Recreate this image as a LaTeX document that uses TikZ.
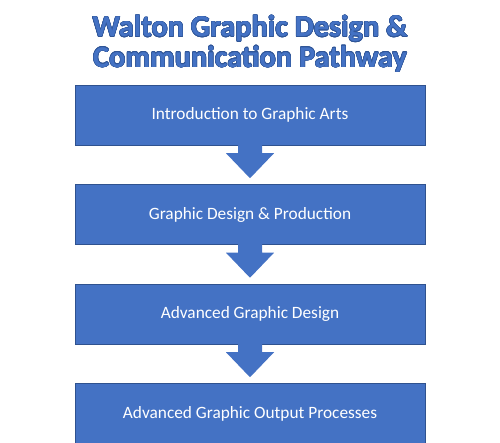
\documentclass[tikz,border=0pt]{standalone}
\usepackage{fontspec}
\setmainfont{Carlito}
\usepackage{contour}
\contourlength{0.5pt}
\contournumber{16}
\usetikzlibrary{positioning,calc}
\definecolor{stepblue}{HTML}{4472C4}
\definecolor{edgeblue}{HTML}{2F528F}
\definecolor{titleedge}{HTML}{2F5597}

\begin{document}
\begin{tikzpicture}[x=1pt,y=1pt,
    course/.style={draw=edgeblue, line width=0.5pt, fill=stepblue, minimum width=350pt, minimum height=60pt, inner sep=0pt, text=white, font=\fontsize{17.3}{20}\selectfont},
    heading/.style={text=stepblue, font=\bfseries\fontsize{30.3}{30.5}\selectfont, align=center, inner sep=0pt},
    blockarrow/.style={fill=stepblue, to path={
        ($(\tikztostart.south)+(-12,1)$) -- ($(\tikztostart.south)+(-12,-8)$) -- ($(\tikztostart.south)+(-24,-8)$)
        -- ($(\tikztotarget.north)+(0,6)$)
        -- ($(\tikztostart.south)+(24,-8)$) -- ($(\tikztostart.south)+(12,-8)$) -- ($(\tikztostart.south)+(12,1)$) -- cycle}}
]
    \useasboundingbox (0,0) rectangle (500,443);

    % Title
    \node[heading] (title) at (250,399) {\contour{titleedge}{Walton Graphic Design \&}\\\contour{titleedge}{Communication Pathway}};

    % Courses
    \node[course] (intro) at (250,328) {Introduction to Graphic Arts};
    \node[course, below=39pt of intro] (design) {Graphic Design \& Production};
    \node[course, below=39pt of design] (advanced) {Advanced Graphic Design};
    \node[course, below=39pt of advanced] (output) {Advanced Graphic Output Processes};

    % Arrows
    \path[blockarrow] (intro) to (design);
    \path[blockarrow] (design) to (advanced);
    \path[blockarrow] (advanced) to (output);
\end{tikzpicture}
\end{document}
